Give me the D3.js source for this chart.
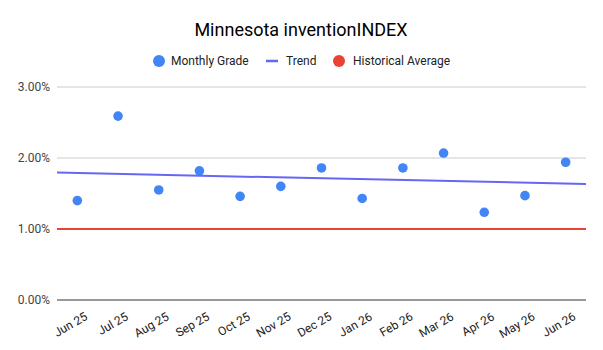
<!DOCTYPE html>
<html><head><meta charset="utf-8">
<script src="https://cdn.jsdelivr.net/npm/d3@7"></script>
<style>body{margin:0;background:#fff}svg{display:block;font-family:Roboto,Arial,sans-serif}</style>
</head><body>
<script>
const months = ["Jun 25","Jul 25","Aug 25","Sep 25","Oct 25","Nov 25","Dec 25","Jan 26","Feb 26","Mar 26","Apr 26","May 26","Jun 26"];
const monthlyGrade = [1.40,2.59,1.55,1.82,1.46,1.60,1.86,1.43,1.86,2.07,1.235,1.47,1.94];
const historicalAverage = 1.00;
const yTicks = [0,1,2,3];
const title = "Minnesota inventionINDEX";
const legendLabels = ["Monthly Grade","Trend","Historical Average"];

(function(){
const W=603,H=350, mL=57, mR=586, mT=87, mB=300;
const svg=d3.select("body").append("svg").attr("width",W).attr("height",H);
const x=d3.scaleBand().domain(months).range([mL,mR]);
const y=d3.scaleLinear().domain([0,3]).range([mB,mT]);
const cx=d=>x(d)+x.bandwidth()/2;

svg.append("text").attr("x",301).attr("y",36).attr("text-anchor","middle")
  .attr("font-size",18).attr("fill","#000").text(title);

svg.append("g").selectAll("line").data(yTicks.filter(t=>t>0)).join("line")
  .attr("x1",mL).attr("x2",mR).attr("y1",d=>y(d)).attr("y2",d=>y(d))
  .attr("stroke","#ccc").attr("stroke-width",1);
svg.append("g").selectAll("text").data(yTicks).join("text")
  .attr("x",50).attr("y",d=>y(d)).attr("dy","0.35em").attr("text-anchor","end")
  .attr("font-size",12).attr("fill","#444").text(d=>d3.format(".2f")(d)+"%");

svg.append("line").attr("x1",mL).attr("x2",mR)
  .attr("y1",y(historicalAverage)).attr("y2",y(historicalAverage))
  .attr("stroke","#EA4335").attr("stroke-width",2);

svg.append("line").attr("x1",mL).attr("x2",mR).attr("y1",y(0)).attr("y2",y(0))
  .attr("stroke","#333").attr("stroke-width",1);

const n=monthlyGrade.length, idx=d3.range(n);
const mx=d3.mean(idx), my=d3.mean(monthlyGrade);
const slope=d3.sum(idx,i=>(i-mx)*(monthlyGrade[i]-my))/d3.sum(idx,i=>(i-mx)*(i-mx));
const ix=d3.scaleLinear().domain([0,n-1]).range([cx(months[0]),cx(months[n-1])]);
const i0=ix.invert(mL), i1=ix.invert(mR);
svg.append("line").attr("x1",mL).attr("x2",mR)
  .attr("y1",y(my+slope*(i0-mx))).attr("y2",y(my+slope*(i1-mx)))
  .attr("stroke","#6666F5").attr("stroke-width",2);

svg.append("g").selectAll("circle").data(monthlyGrade).join("circle")
  .attr("cx",(d,i)=>cx(months[i])).attr("cy",d=>y(d)).attr("r",4.8).attr("fill","#4285F4");

svg.append("g").selectAll("text").data(months).join("text")
  .attr("transform",d=>`translate(${cx(d)+11},${319}) rotate(-30)`)
  .attr("text-anchor","end").attr("font-size",12).attr("fill","#222").text(d=>d);

const lg=svg.append("g").attr("font-size",12).attr("fill","#222");
lg.append("circle").attr("cx",159).attr("cy",61).attr("r",6).attr("fill","#4285F4");
lg.append("text").attr("x",171).attr("y",61).attr("dy","0.35em").text(legendLabels[0]);
lg.append("line").attr("x1",266).attr("x2",278).attr("y1",61).attr("y2",61).attr("stroke","#6666F5").attr("stroke-width",2.5);
lg.append("text").attr("x",286).attr("y",61).attr("dy","0.35em").text(legendLabels[1]);
lg.append("circle").attr("cx",339).attr("cy",61).attr("r",6).attr("fill","#EA4335");
lg.append("text").attr("x",353).attr("y",61).attr("dy","0.35em").text(legendLabels[2]);
})();
</script>
</body></html>
